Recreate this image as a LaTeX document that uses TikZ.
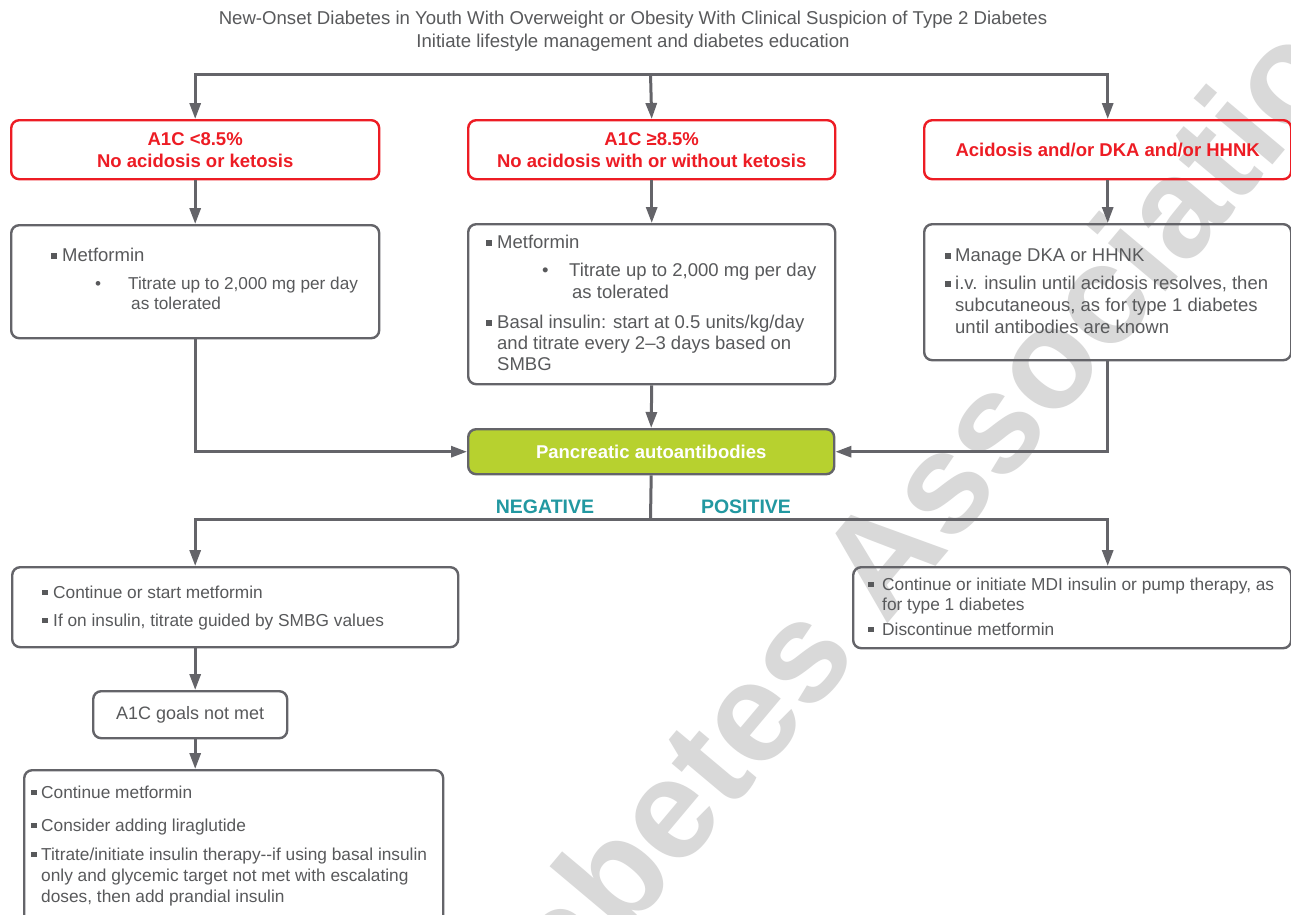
\documentclass[tikz,border=0pt]{standalone}
\usepackage{fontspec}
\setmainfont{Liberation Sans}
\usetikzlibrary{arrows.meta}
\definecolor{adared}{RGB}{237,28,36}
\definecolor{linegray}{RGB}{100,100,105}
\definecolor{txtgray}{RGB}{88,89,91}
\definecolor{adagreen}{RGB}{183,209,47}
\definecolor{adateal}{RGB}{34,152,161}
\definecolor{wmgray}{RGB}{217,217,217}
\newcommand{\fsz}[2]{\fontsize{#1}{#2}\selectfont}
\newcommand{\sqb}[1][11pt]{\makebox[#1][l]{\raisebox{3pt}{\rule{5.5pt}{5.5pt}}}}
\newcommand{\lns}[1]{\begin{tabular}[t]{@{}l@{}}#1\end{tabular}}
\tikzset{
  graybox/.style={draw=linegray, line width=2.4pt, rounded corners=8pt, inner sep=0pt, anchor=north west},
  redbox/.style={draw=adared, line width=2.4pt, rounded corners=8pt, inner sep=0pt, anchor=north west,
    text=adared, font=\bfseries\fsz{18.5}{22}, align=center},
  greenbox/.style={draw=linegray, fill=adagreen, line width=2.4pt, rounded corners=8pt, inner sep=0pt,
    anchor=north west, text=white, font=\bfseries\fsz{18.5}{22}},
  conn/.style={draw=linegray, line width=3pt},
  item/.style={anchor=base west, inner sep=0pt, text=txtgray},
  branch/.style={anchor=base, inner sep=0pt, text=adateal, font=\bfseries\fsz{19.5}{23}},
}
\begin{document}
\begin{tikzpicture}[x=1pt, y=-1pt, >={Triangle[length=16pt,width=11pt]}]
\useasboundingbox (0,0) rectangle (1291,914);
\clip (0,0) rectangle (1291,914);
\fill[white] (0,0) rectangle (1291,914);

% watermark
\node[anchor=base west, inner sep=0pt, rotate=50, text=wmgray, font=\bfseries\fsz{142}{142}] (wm) at (480,1110) {Diabetes Association};

% title
\node[anchor=base, inner sep=0pt, text=txtgray, font=\fsz{18.6}{23}] (title) at (633,24.5)
  {\begin{tabular}[t]{@{}c@{}}New-Onset Diabetes in Youth With Overweight or Obesity With Clinical Suspicion of Type 2 Diabetes\\Initiate lifestyle management and diabetes education\end{tabular}};

% red boxes
\node[redbox, minimum width=368pt, minimum height=59pt] (a1) at (10,119) {A1C <8.5\%\\No acidosis or ketosis};
\node[redbox, minimum width=367pt, minimum height=59pt] (b1) at (467,119) {A1C ≥8.5\%\\No acidosis with or without ketosis};
\node[redbox, minimum width=367pt, minimum height=59pt] (c1) at (923,119) {Acidosis and/or DKA and/or HHNK};

% gray boxes, second row
\node[graybox, minimum width=368pt, minimum height=113pt] (a2) at (10,224) {};
\node[graybox, minimum width=367pt, minimum height=160pt] (b2) at (467,223) {};
\node[graybox, minimum width=367pt, minimum height=136pt] (c2) at (923,223) {};

\node[item, font=\fsz{18.5}{22}] (a2i1) at (51,261.5) {\sqb Metformin};
\node[item, font=\fsz{17.2}{20}] (a2i2) at (95,289) {\lns{\makebox[33pt][l]{•}Titrate up to 2,000 mg per day\\\hspace*{36pt}as tolerated}};

\node[item, font=\fsz{18.5}{22}] (b2i1) at (486,248.5) {\sqb Metformin};
\node[item, font=\fsz{18.5}{22}] (b2i2) at (542,276.5) {\lns{\makebox[27pt][l]{•}Titrate up to 2,000 mg per day\\\hspace*{30pt}as tolerated}};
\node[item, font=\fsz{18.5}{21}] (b2i3) at (486,328.5) {\lns{\sqb Basal insulin: start at 0.5 units/kg/day\\\hspace*{11pt}and titrate every 2–3 days based on\\\hspace*{11pt}SMBG}};

\node[item, font=\fsz{18.5}{22}] (c2i1) at (945,261.5) {\sqb[10pt]Manage DKA or HHNK};
\node[item, font=\fsz{18.5}{22}] (c2i2) at (945,289.5) {\lns{\sqb[10pt]i.v. insulin until acidosis resolves, then\\\hspace*{10pt}subcutaneous, as for type 1 diabetes\\\hspace*{10pt}until antibodies are known}};

% green box
\node[greenbox, minimum width=366pt, minimum height=45pt] (pa) at (467,428) {Pancreatic autoantibodies};

\node[branch] (neg) at (545,513) {NEGATIVE};
\node[branch] (pos) at (746,513) {POSITIVE};

% bottom boxes
\node[graybox, minimum width=446pt, minimum height=80pt] (dneg) at (11,566) {};
\node[graybox, minimum width=438pt, minimum height=81pt] (epos) at (852,566) {};
\node[graybox, minimum width=194pt, minimum height=47pt, text=txtgray, font=\fsz{18}{22}] (goals) at (92,690) {A1C goals not met};
\node[graybox, minimum width=419pt, minimum height=170pt] (more) at (23,769) {};

\node[item, font=\fsz{17.3}{20}] (di1) at (42,598) {\sqb Continue or start metformin};
\node[item, font=\fsz{17.3}{20}] (di2) at (42,626) {\sqb If on insulin, titrate guided by SMBG values};

\node[item, font=\fsz{17.3}{20}] (ei1) at (868,590) {\lns{\sqb[14pt]Continue or initiate MDI insulin or pump therapy, as\\\hspace*{14pt}for type 1 diabetes}};
\node[item, font=\fsz{17.3}{20}] (ei2) at (868,635) {\sqb[14pt]Discontinue metformin};

\node[item, font=\fsz{17.3}{21}] (mi1) at (31,798) {\sqb[10pt]Continue metformin};
\node[item, font=\fsz{17.3}{21}] (mi2) at (31,831) {\sqb[10pt]Consider adding liraglutide};
\node[item, font=\fsz{17.3}{21}] (mi3) at (31,860) {\lns{\sqb[10pt]Titrate/initiate insulin therapy-{}-if using basal insulin\\\hspace*{10pt}only and glycemic target not met with escalating\\\hspace*{10pt}doses, then add prandial insulin}};

% connectors
\coordinate (top) at (650.5,74);
\coordinate (split) at (650.5,519);
\draw[conn,<->] (a1.north) |- (top) -| (c1.north);
\draw[conn,->] (top) -- (b1.north);
\draw[conn,->] (a1.south) -- (a2.north);
\draw[conn,->] (b1.south) -- (b2.north);
\draw[conn,->] (c1.south) -- (c2.north);
\draw[conn,->] (a2.south) |- (pa.west);
\draw[conn,->] (c2.south) |- (pa.east);
\draw[conn,->] (b2.south) -- (pa.north);
\draw[conn] (pa.south) -- (split);
\draw[conn,<->] (a1.south |- dneg.north) |- (split) -| (c1.south |- epos.north);
\draw[conn,->] (a1.south |- dneg.south) -- (a1.south |- goals.north);
\draw[conn,->] (a1.south |- goals.south) -- (a1.south |- more.north);
\end{tikzpicture}
\end{document}
